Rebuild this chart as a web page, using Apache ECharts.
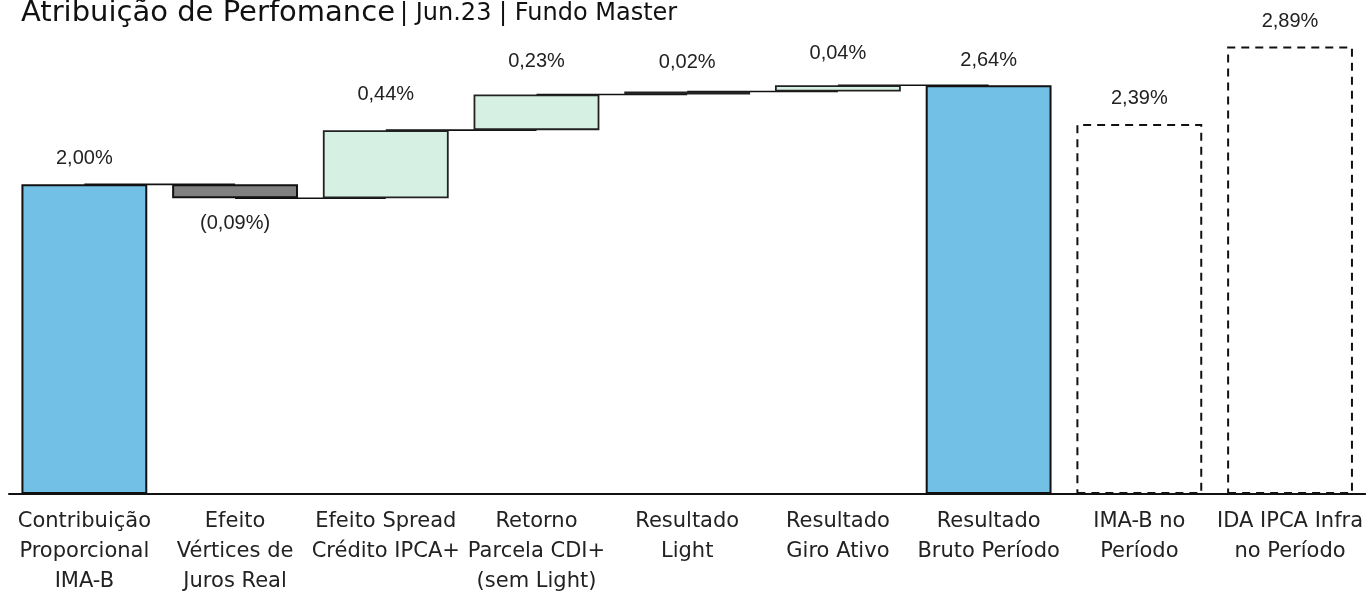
<!DOCTYPE html>
<html>
<head>
<meta charset="utf-8">
<script src="https://cdn.jsdelivr.net/npm/echarts@6/dist/echarts.min.js"></script>
<style>html,body{margin:0;padding:0;background:#fff;}#c{width:1366px;height:597px;}</style>
</head>
<body>
<div id="c"></div>
<script>
const categories = [
  'Contribuição\nProporcional\nIMA-B',
  'Efeito\nVértices de\nJuros Real',
  'Efeito Spread\nCrédito IPCA+',
  'Retorno\nParcela CDI+\n(sem Light)',
  'Resultado\nLight',
  'Resultado\nGiro Ativo',
  'Resultado\nBruto Período',
  'IMA-B no\nPeríodo',
  'IDA IPCA Infra\nno Período'
];
const values = [2.00, -0.09, 0.44, 0.23, 0.02, 0.04, 2.64, 2.39, 2.89];
const kinds = ['total', 'delta', 'delta', 'delta', 'delta', 'delta', 'total', 'bench', 'bench'];

// build waterfall pieces from the values
const bases = [], heights = [], levels = [];
let run = 0;
values.forEach((v, i) => {
  if (kinds[i] === 'delta') {
    const start = run; run = run + v;
    bases.push(Math.min(start, run));
    heights.push(Math.abs(v));
  } else {
    if (kinds[i] === 'total') run = v;
    bases.push(0);
    heights.push(v);
  }
  levels.push(run);
});
const connectors = [];
for (let i = 0; i < 6; i++) connectors.push([i, levels[i]]);

const fmt = v => {
  const s = Math.abs(v).toFixed(2).replace('.', ',') + '%';
  return v < 0 ? '(' + s + ')' : s;
};
const labelDist = [16, 15, 26, 23, 19, 22, 15, 15, 15];

const barData = heights.map((h, i) => {
  const k = kinds[i];
  let itemStyle;
  if (k === 'total') itemStyle = { color: '#73C0E6', borderColor: '#111', borderWidth: 2 };
  else if (k === 'bench') itemStyle = { color: '#ffffff', borderColor: '#111', borderWidth: 2, borderType: [8, 6] };
  else if (values[i] < 0) itemStyle = { color: '#808080', borderColor: '#111', borderWidth: 2 };
  else itemStyle = { color: '#D6F1E3', borderColor: '#222', borderWidth: 1.8 };
  return {
    value: h,
    itemStyle,
    label: {
      show: true,
      position: values[i] < 0 ? 'bottom' : 'top',
      distance: labelDist[i],
      formatter: fmt(values[i])
    }
  };
});

const chart = echarts.init(document.getElementById('c'));
chart.setOption({
  animation: false,
  backgroundColor: '#fff',
  title: {
    left: 16, top: -6,
    text: '{a|Atribuição de Perfomance} {b|| Jun.23 | Fundo Master}',
    textStyle: {
      rich: {
        a: { fontFamily: 'DejaVu Sans', fontSize: 29, color: '#111', fontWeight: 'normal' },
        b: { fontFamily: 'DejaVu Sans', fontSize: 24, color: '#111', fontWeight: 'normal' }
      }
    }
  },
  grid: { left: 9, right: 0, top: 29.5, bottom: 101, containLabel: false },
  xAxis: {
    type: 'category',
    data: categories,
    axisLine: { lineStyle: { color: '#111', width: 2 } },
    axisTick: { show: false },
    axisLabel: { interval: 0, fontFamily: 'DejaVu Sans', fontSize: 21, lineHeight: 30, color: '#222', margin: 13 }
  },
  yAxis: {
    type: 'value', min: 0, max: 3, show: false, splitLine: { show: false }
  },
  series: [
    {
      type: 'custom',
      z: 1,
      data: connectors,
      renderItem: (params, api) => {
        const i = api.value(0), lv = api.value(1);
        const p1 = api.coord([i, lv]);
        const p2 = api.coord([i + 1, lv]);
        return { type: 'line', shape: { x1: p1[0], y1: p1[1], x2: p2[0], y2: p2[1] }, style: { stroke: '#111', lineWidth: 1.6 } };
      }
    },
    {
      type: 'bar', stack: 'w', z: 2,
      data: bases,
      itemStyle: { color: 'transparent' },
      barCategoryGap: '16.5%',
      silent: true
    },
    {
      type: 'bar', stack: 'w', z: 3,
      data: barData,
      barCategoryGap: '16.5%',
      label: { fontFamily: 'Liberation Sans', fontSize: 20, color: '#222' }
    }
  ]
});
</script>
</body>
</html>
